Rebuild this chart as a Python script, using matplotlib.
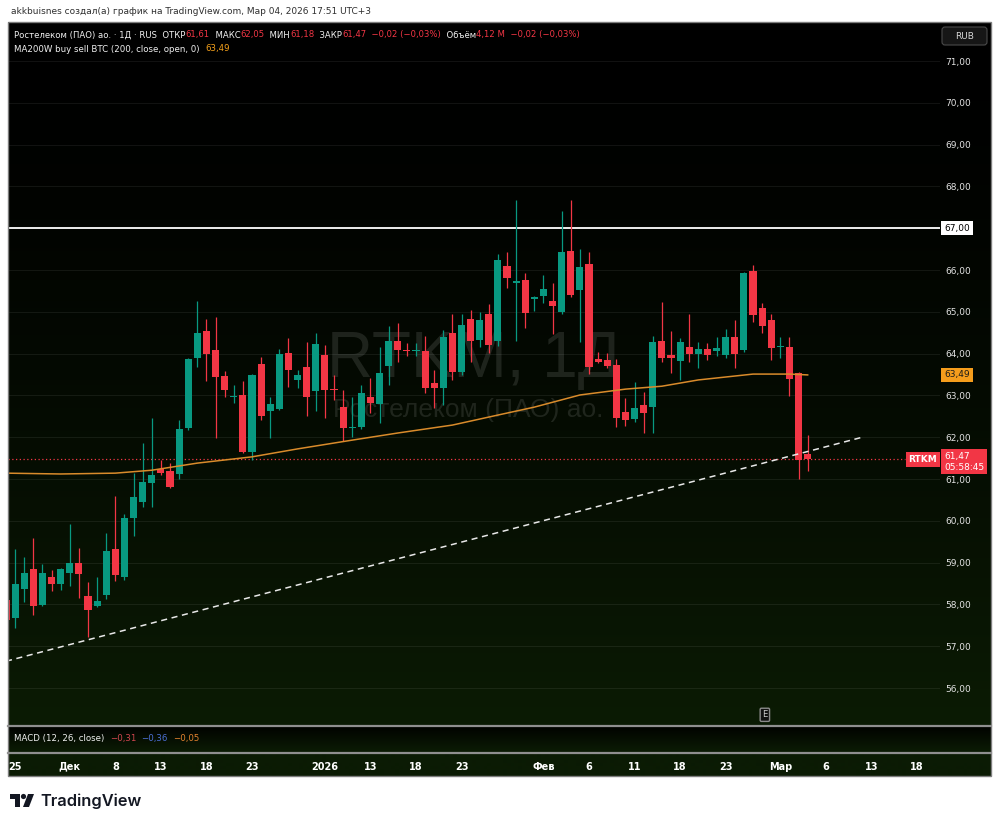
import matplotlib
matplotlib.use("Agg")
import matplotlib.pyplot as plt
import numpy as np
from matplotlib.patches import Rectangle, Polygon, Circle, FancyBboxPatch
from matplotlib.transforms import Affine2D

# ---- данные ----
opens = [58.11, 57.67, 58.37, 58.85, 57.99, 58.66, 58.49, 58.75, 58.99, 58.20,
         57.96, 58.23, 59.33, 58.66, 60.07, 60.45, 60.90, 61.24, 61.19, 61.12,
         62.22, 63.89, 64.54, 64.09, 63.46, 62.96, 63.01, 61.65, 63.75, 62.63,
         62.67, 64.01, 63.37, 63.68, 63.11, 63.97, 63.15, 62.72, 62.22, 62.24,
         62.96, 62.79, 63.70, 64.30, 64.08, 64.06, 64.06, 63.30, 63.18, 64.49,
         63.56, 64.83, 64.33, 64.95, 64.30, 66.10, 65.69, 65.76, 65.31, 65.38,
         65.26, 64.99, 66.45, 65.52, 66.14, 63.87, 63.85, 63.73, 62.60, 62.44,
         62.77, 62.72, 64.30, 63.97, 63.82, 64.16, 63.99, 64.11, 64.06, 63.97,
         64.40, 64.09, 65.98, 65.09, 64.80, 64.16, 64.16, 63.54, 61.61]
highs = [58.25, 59.33, 59.13, 59.59, 58.97, 58.82, 58.87, 59.92, 59.35, 58.54,
         58.66, 59.71, 60.59, 60.16, 61.14, 61.85, 62.46, 61.45, 61.38, 62.41,
         63.90, 65.26, 64.83, 64.88, 63.58, 63.25, 63.34, 63.52, 63.92, 62.96,
         64.11, 64.37, 63.61, 64.28, 64.49, 64.21, 63.49, 63.13, 62.96, 63.25,
         63.42, 64.16, 64.66, 64.73, 64.25, 64.25, 64.42, 63.61, 64.56, 64.95,
         64.95, 65.04, 65.00, 65.19, 66.38, 66.43, 67.67, 65.93, 65.37, 65.88,
         65.69, 67.41, 67.67, 66.50, 66.43, 64.04, 64.01, 63.87, 62.94, 63.32,
         63.08, 64.42, 65.23, 64.54, 64.37, 64.95, 64.28, 64.25, 64.40, 64.59,
         64.80, 65.95, 66.12, 65.21, 64.95, 64.40, 64.40, 63.56, 62.05]
lows = [57.51, 57.44, 58.06, 57.75, 57.97, 58.32, 58.34, 58.44, 58.15, 57.22,
        57.94, 58.13, 58.56, 58.58, 59.64, 60.33, 60.33, 61.10, 60.79, 61.00,
        62.18, 63.68, 63.34, 61.98, 62.96, 62.82, 61.63, 61.45, 62.41, 61.98,
        62.64, 63.20, 63.18, 62.51, 62.63, 62.46, 62.89, 61.91, 62.01, 62.20,
        62.58, 62.34, 63.25, 63.80, 63.94, 63.94, 63.06, 62.70, 62.77, 63.37,
        63.49, 63.80, 64.16, 64.01, 64.18, 65.57, 64.30, 64.61, 65.02, 65.21,
        64.47, 64.94, 65.35, 64.28, 63.51, 63.78, 63.66, 62.24, 62.27, 62.36,
        62.10, 62.10, 63.80, 63.54, 63.37, 63.80, 63.66, 63.85, 63.95, 63.90,
        63.66, 64.04, 64.76, 64.49, 63.85, 63.89, 62.99, 61.00, 61.18]
closes = [57.63, 58.49, 58.75, 57.96, 58.75, 58.49, 58.85, 58.99, 58.73, 57.87,
          58.08, 59.28, 58.70, 60.07, 60.57, 60.93, 61.10, 61.14, 60.81, 62.20,
          63.87, 64.49, 63.99, 63.44, 63.13, 62.98, 61.65, 63.49, 62.51, 62.79,
          63.99, 63.61, 63.49, 62.96, 64.23, 63.13, 63.12, 62.22, 62.25, 63.06,
          62.82, 63.54, 64.30, 64.09, 64.06, 64.08, 63.18, 63.18, 64.40, 63.56,
          64.68, 64.30, 64.80, 64.21, 66.24, 65.81, 65.74, 64.97, 65.35, 65.55,
          65.14, 66.43, 65.40, 66.07, 63.68, 63.80, 63.70, 62.46, 62.41, 62.70,
          62.58, 64.28, 63.89, 63.89, 64.28, 63.99, 64.11, 63.97, 64.13, 64.40,
          63.99, 65.93, 64.92, 64.66, 64.13, 64.18, 63.39, 61.45, 61.47]

ma_idx = [0, 6, 12, 16, 21, 27, 32, 38, 43, 49, 54, 58, 63, 68, 72, 76, 82, 86, 88]
ma_val = [61.14, 61.12, 61.14, 61.21, 61.38, 61.53, 61.72, 61.93, 62.10, 62.29,
          62.53, 62.72, 63.01, 63.15, 63.22, 63.37, 63.51, 63.51, 63.49]

trend_idx = [0, 94]
trend_val = [56.64, 62.00]

level_line = 67.0
last_price = 61.47
ma_last = 63.49
event_idx = 83.3

tick_idx = [1, 7, 12, 17, 22, 27, 35, 40, 45, 50, 59, 64, 69, 74, 79, 85, 90, 95, 100]
tick_lbl = ['25', 'Дек', '8', '13', '18', '23', '2026', '13', '18', '23',
            'Фев', '6', '11', '18', '23', 'Мар', '6', '13', '18']
price_ticks = list(range(56, 72))

UP = '#089981'
DOWN = '#f23645'
W, H = 1000, 826

fig = plt.figure(figsize=(W / 100, H / 100), dpi=100)
fig.patch.set_facecolor('white')
# пиксели (x слева, y сверху) -> фигура
P = Affine2D().scale(1 / W, -1 / H).translate(0, 1) + fig.transFigure


def fr(x0, y0, x1, y1):
    return [x0 / W, 1 - y1 / H, (x1 - x0) / W, (y1 - y0) / H]


# фон с градиентом
green = np.array([11, 27, 4]) / 255
rows = []
for py in range(22, 777):
    if py <= 725:
        t = ((py - 22) / 703) ** 1.5
    elif 727 <= py <= 752:
        t = 0.1 + 0.9 * (py - 727) / 25
    else:
        t = 1.0
    rows.append(green * t)
grad = np.array(rows)[:, None, :]
bg = fig.add_axes(fr(8, 22, 991, 776), zorder=-5)
bg.imshow(grad, aspect='auto', extent=(0, 1, 0, 1), interpolation='bilinear')
bg.axis('off')

ax = fig.add_axes(fr(8, 22, 940, 725))
ax.set_facecolor('none')
x0_lim, x1_lim = (8 - 6) / 9.11, (940 - 6) / 9.11
ax.set_xlim(x0_lim, x1_lim)
ax.set_ylim(71 - (725 - 61) / 41.8, 71 + (61 - 22) / 41.8)
for s in ax.spines.values():
    s.set_visible(False)
ax.set_xticks([])
ax.yaxis.tick_right()
ax.set_yticks(price_ticks)
ax.set_yticklabels([f'{p},00' for p in price_ticks])
ax.tick_params(axis='y', length=0, pad=4, labelsize=6.5, labelcolor='#e2e2e2')
ax.grid(axis='y', color='white', alpha=0.07, lw=0.8)

# водяной знак
ax.text(0.5, 0.495, 'RTKM, 1Д', transform=ax.transAxes, ha='center', va='baseline',
        fontsize=46, family='Liberation Sans', color='white', alpha=0.11, zorder=0)
ax.text(0.494, 0.438, 'Ростелеком (ПАО) ао.', transform=ax.transAxes, ha='center',
        va='baseline', fontsize=19, family='Liberation Sans', color='white', alpha=0.11, zorder=0)

# свечи
xs = np.arange(len(opens))
o = np.array(opens); c = np.array(closes); hi = np.array(highs); lo = np.array(lows)
cols = [UP if cc >= oo else DOWN for oo, cc in zip(o, c)]
ax.vlines(xs, lo, hi, colors=cols, lw=0.9, zorder=3)
body_h = np.maximum(np.abs(c - o), 0.03)
ax.bar(xs, body_h, bottom=np.minimum(o, c), width=0.78, color=cols, lw=0, zorder=4)

# скользящая, тренд, уровни
ax.plot(ma_idx, ma_val, color='#d98b2b', lw=1.1, zorder=5)
ax.plot(trend_idx, trend_val, color='#e8e8e8', lw=1.1, ls=(0, (4, 3)), zorder=5)
ax.axhline(level_line, color='white', lw=1.3, zorder=2)
ax.plot([x0_lim, (905 - 6) / 9.11], [last_price, last_price], color=DOWN, lw=0.9,
        ls=(0, (1, 2)), zorder=2)


def tag(text, y, fc, tc, dx=2.5, ha='left', va='center', weight='normal', dy=0):
    return ax.annotate(text, xy=(1.0, y), xycoords=('axes fraction', 'data'),
                       xytext=(dx, dy), textcoords='offset points', ha=ha, va=va,
                       fontsize=6.5, color=tc, weight=weight, annotation_clip=False,
                       zorder=10, bbox=dict(boxstyle='square,pad=0.3', fc=fc, ec='none'))


tag('67,00', level_line, 'white', 'black', dx=3)
tag('63,49', ma_last, '#f59d1c', '#1a1a1a', dx=3)
tag('RTKM', last_price, DOWN, 'white', dx=-2, ha='right', weight='bold')
tag('61,47\n05:58:45', last_price, DOWN, 'white', dx=3, va='top', dy=5.2)

# отметка события
ax.annotate('E', xy=(event_idx, 0.0145), xycoords=('data', 'axes fraction'), ha='center',
            va='center', fontsize=6, color='#cfcfcf', zorder=10,
            bbox=dict(boxstyle='round,pad=0.25,rounding_size=0.15', fc='#111', ec='#8a8a8a', lw=1))

# панель MACD и шкала времени
mx = fig.add_axes(fr(8, 727, 940, 752))
mx.set_facecolor('none')
mx.set_xlim(x0_lim, x1_lim)
for s in mx.spines.values():
    s.set_visible(False)
mx.set_yticks([])
mx.set_xticks(tick_idx)
mx.set_xticklabels(tick_lbl)
mx.tick_params(axis='x', length=0, pad=7, labelsize=7, labelcolor='white')
for lb in mx.get_xticklabels():
    lb.set_fontweight('bold')

# рамки и разделители
fig.add_artist(Rectangle((8, 22), 983, 754, transform=P, fill=False, ec='#7d7d7d', lw=1))
for yy in (726, 753):
    fig.add_artist(plt.Line2D([8, 991], [yy, yy], transform=P, color='#8f8f8f', lw=1.6))

# RUB
fig.add_artist(FancyBboxPatch((942, 27), 45, 18, transform=P,
                              boxstyle='round,pad=0,rounding_size=3', fc='#161616', ec='#4a4a4a', lw=0.8))
fig.text(964.5, 36.5, 'RUB', transform=P, ha='center', va='center', fontsize=6.5, color='#d8d8d8')

# текстовые строки с разными цветами
renderer = fig.canvas.get_renderer()


def line(parts, x, y, size, family='DejaVu Sans'):
    for s, col in parts:
        t = fig.text(x, y, s, transform=P, ha='left', va='baseline', fontsize=size,
                     color=col, family=family)
        x += t.get_window_extent(renderer).width


WH = '#f0f0f0'
RD = '#f23645'
line([('akkbuisnes создал(а) график на TradingView.com, Мар 04, 2026 17:51 UTC+3', '#2f2f2f')],
     11, 14.5, 6.5)
line([('Ростелеком (ПАО) ао. · 1Д · RUS  ОТКР', WH), ('61,61', RD), ('  МАКС', WH), ('62,05', RD),
      ('  МИН', WH), ('61,18', RD), ('  ЗАКР', WH), ('61,47', RD), ('  −0,02 (−0,03%)', RD),
      ('  Объём', WH), ('4,12 M', RD), ('  −0,02 (−0,03%)', RD)], 14, 37.5, 6.15)
line([('MA200W buy sell BTC (200, close, open, 0)  ', WH), ('63,49', '#f7a21b')], 14, 51.5, 6.2)
line([('MACD (12, 26, close)  ', WH), ('−0,31', '#d0464f'), ('  ', WH), ('−0,36', '#4c6fd6'),
      ('  ', WH), ('−0,05', '#e3822f')], 14, 741.5, 6.2)

# логотип TradingView
fig.add_artist(Rectangle((10, 794), 10, 5, transform=P, color='#131722', lw=0))
fig.add_artist(Rectangle((15, 794), 5, 13, transform=P, color='#131722', lw=0))
fig.add_artist(Circle((23.5, 796.5), 2.6, transform=P, color='#131722', lw=0))
fig.add_artist(Polygon([(28, 794), (34, 794), (29, 807), (23, 807)], closed=True,
                       transform=P, color='#131722', lw=0))
fig.text(40, 806, 'TradingView', transform=P, ha='left', va='baseline', fontsize=11.8,
         weight='semibold', family='Inter', color='#131722')

fig.savefig('out.png', dpi=100, facecolor='white')
